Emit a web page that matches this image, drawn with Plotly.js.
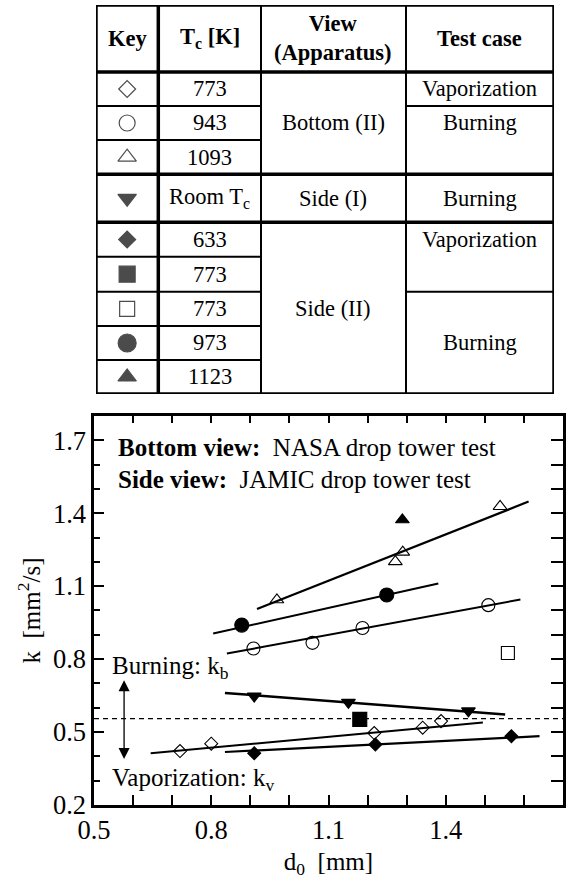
<!DOCTYPE html>
<html>
<head>
<meta charset="utf-8">
<script src="https://cdn.plot.ly/plotly-3.0.1.min.js"></script>
<style>html,body{margin:0;padding:0;background:#fff}</style>
</head>
<body>
<div id="chart" style="width:578px;height:883px"></div>
<script>
// ---- Burning / vaporization rate constants k versus initial droplet diameter d0 ----

// Bottom view (NASA drop tower), Tc = 773 K, vaporization: open diamonds
const vap773X = [0.720, 0.800, 1.217, 1.341, 1.388];
const vap773K = [0.422, 0.452, 0.496, 0.518, 0.545];
const vap773FitX = [0.645, 1.495];
const vap773FitK = [0.413, 0.539];

// Bottom view, Tc = 943 K, burning: open circles
const burn943X = [0.908, 1.059, 1.187, 1.509];
const burn943K = [0.844, 0.867, 0.928, 1.022];
const burn943FitX = [0.840, 1.591];
const burn943FitK = [0.823, 1.045];

// Bottom view, Tc = 1093 K, burning: open triangles
const burn1093X = [0.968, 1.271, 1.290, 1.539];
const burn1093K = [1.044, 1.201, 1.240, 1.428];
const burn1093FitX = [0.917, 1.612];
const burn1093FitK = [1.006, 1.448];

// Side view (I), room temperature, burning: filled inverted triangles
const burnRoomX = [0.910, 1.151, 1.458];
const burnRoomK = [0.648, 0.622, 0.587];
const burnRoomFitX = [0.835, 1.552];
const burnRoomFitK = [0.661, 0.572];

// Side view (II), Tc = 633 K, vaporization: filled diamonds
const vap633X = [0.910, 1.220, 1.568];
const vap633K = [0.413, 0.449, 0.483];
const vap633FitX = [0.835, 1.640];
const vap633FitK = [0.418, 0.483];

// Side view (II), Tc = 773 K: filled square (vaporization), open square (burning)
const vapSide773X = [1.180];
const vapSide773K = [0.552];
const burnSide773X = [1.559];
const burnSide773K = [0.825];

// Side view (II), Tc = 973 K, burning: filled circles
const burn973X = [0.878, 1.249];
const burn973K = [0.940, 1.064];
const burn973FitX = [0.805, 1.381];
const burn973FitK = [0.905, 1.111];

// Side view (II), Tc = 1123 K, burning: filled triangle
const burn1123X = [1.289];
const burn1123K = [1.373];

// Boundary between burning and vaporization constants
const kBoundary = 0.555;
const arrowX = 0.577;
const arrowTopK = 0.713;
const arrowBottomK = 0.383;

// Axis ticks
const xRange = [0.5, 1.7];
const yRange = [0.2, 1.8];
const xTickVals = [0.5, 0.8, 1.1, 1.4, 1.7];
const xTickText = ['0.5', '0.8', '1.1', '1.4', '1.7'];
const yTickVals = [0.2, 0.5, 0.8, 1.1, 1.4, 1.7];
const yTickText = ['0.2', '0.5', '0.8', '1.1', '1.4', '1.7'];

// ---- Key table ----
const tableHeaders = ['<b>Key</b>', '<b>T<sub>c</sub> [K]</b>', '<b>View</b><br><b>(Apparatus)</b>', '<b>Test case</b>'];
const keySymbols = ['diamond-open', 'circle-open', 'triangle-up-open', 'triangle-down',
                    'diamond', 'square', 'square-open', 'circle', 'triangle-up'];
const keySizes = [13, 16, 16, 16, 13, 16, 15, 18, 16];
const tcLabels = ['773', '943', '1093', 'Room T<sub>c</sub>', '633', '773', '773', '973', '1123'];
const viewLabels = ['Bottom (II)', 'Side (I)', 'Side (II)'];
const viewLabelRow = [1, 3, 6];
const sectionEndRows = [2, 3];
const testLabels = ['Vaporization', 'Burning', 'Burning', 'Vaporization', 'Burning'];
const testLabelRow = [0, 1, 3, 4, 7];
const testLastRow = [0, 2, 3, 5, 8];

// table geometry (table units)
const colWidths = [62.3, 102.7, 145, 148];
const rowHeights = [67, 34, 34, 34.3, 48, 34.4, 35, 34.3, 34, 34];

const FONT = '"Liberation Serif", "Times New Roman", Times, serif';

function cumulative(arr) {
  const out = [0];
  arr.forEach(v => out.push(out[out.length - 1] + v));
  return out;
}
const colEdges = cumulative(colWidths);
const rowEdges = cumulative(rowHeights);
const tableW = colEdges[colEdges.length - 1];
const tableH = rowEdges[rowEdges.length - 1];
const colMid = i => (colEdges[i] + colEdges[i + 1]) / 2;
const dataRowMid = r => (rowEdges[r + 1] + rowEdges[r + 2]) / 2;
const dataRowBottom = r => rowEdges[r + 2];

const THICK = 3.5, THIN = 2;
const shapes = [];
function tline(x0, x1, y0, y1, w) {
  shapes.push({type: 'line', xref: 'x2', yref: 'y2', x0, x1, y0, y1,
               line: {color: '#000', width: w}});
}
// outer frame
shapes.push({type: 'rect', xref: 'x2', yref: 'y2', x0: 0, x1: tableW, y0: 0, y1: tableH,
             line: {color: '#000', width: THICK}});
// header rule and column rules
tline(0, tableW, rowEdges[1], rowEdges[1], THICK);
tline(colEdges[1], colEdges[1], 0, tableH, THICK);
tline(colEdges[2], colEdges[2], 0, tableH, THIN);
tline(colEdges[3], colEdges[3], 0, tableH, THIN);
// row rules
for (let r = 0; r < tcLabels.length - 1; r++) {
  const y = dataRowBottom(r);
  if (sectionEndRows.includes(r)) {
    tline(0, tableW, y, y, THICK);
  } else {
    tline(0, colEdges[2], y, y, THIN);
    if (testLastRow.includes(r)) tline(colEdges[3], tableW, y, y, THIN);
  }
}

const annotations = [];
const tfont = {family: FONT, size: 22.5, color: '#000'};
tableHeaders.forEach((t, i) => annotations.push({
  xref: 'x2', yref: 'y2', x: colMid(i), y: (rowEdges[0] + rowEdges[1]) / 2,
  text: t, showarrow: false, font: tfont, xanchor: 'center', yanchor: 'middle'
}));
tcLabels.forEach((t, r) => annotations.push({
  xref: 'x2', yref: 'y2', x: colMid(1), y: dataRowMid(r),
  text: t, showarrow: false, font: tfont, xanchor: 'center', yanchor: 'middle'
}));
viewLabels.forEach((t, i) => annotations.push({
  xref: 'x2', yref: 'y2', x: colMid(2), y: dataRowMid(viewLabelRow[i]),
  text: t, showarrow: false, font: tfont, xanchor: 'center', yanchor: 'middle'
}));
testLabels.forEach((t, i) => annotations.push({
  xref: 'x2', yref: 'y2', x: colMid(3), y: dataRowMid(testLabelRow[i]),
  text: t, showarrow: false, font: tfont, xanchor: 'center', yanchor: 'middle'
}));

// ---- in-plot labels ----
const pfont = {family: FONT, size: 25, color: '#000'};
annotations.push(
  {xref: 'x', yref: 'y', x: 0.556, y: 1.669, xanchor: 'left', yanchor: 'middle', showarrow: false,
   text: '<b>Bottom view:</b>\u00a0 NASA drop tower test', font: pfont},
  {xref: 'x', yref: 'y', x: 0.556, y: 1.537, xanchor: 'left', yanchor: 'middle', showarrow: false,
   text: '<b>Side view:</b>\u00a0 JAMIC drop tower test', font: pfont},
  {xref: 'x', yref: 'y', x: 0.54, y: 0.765, xanchor: 'left', yanchor: 'middle', showarrow: false,
   text: 'Burning: k<sub>b</sub>', font: pfont},
  {xref: 'x', yref: 'y', x: 0.54, y: 0.305, xanchor: 'left', yanchor: 'middle', showarrow: false,
   text: 'Vaporization: k<sub>v</sub>', font: pfont},
  {xref: 'x', yref: 'y', axref: 'x', ayref: 'y', x: arrowX, y: arrowTopK, ax: arrowX, ay: arrowBottomK,
   text: '', showarrow: true, arrowside: 'end+start', arrowhead: 2, arrowsize: 1.7,
   arrowwidth: 1.3, arrowcolor: '#000', standoff: 0, startstandoff: 0}
);

shapes.push({type: 'line', xref: 'x', yref: 'y', x0: xRange[0], x1: xRange[1],
             y0: kBoundary, y1: kBoundary, line: {color: '#000', width: 1.2, dash: '5px,4px'}});

// ---- traces ----
const traces = [];
function fit(x, y, w) {
  traces.push({x, y, xaxis: 'x', yaxis: 'y', mode: 'lines', type: 'scatter',
               line: {color: '#000', width: w}, hoverinfo: 'skip'});
}
function pts(x, y, symbol, size) {
  traces.push({x, y, xaxis: 'x', yaxis: 'y', mode: 'markers', type: 'scatter',
               marker: {symbol, size, color: '#000', line: {color: '#000', width: 1.1}}});
}
fit(vap773FitX, vap773FitK, 2);
fit(burn943FitX, burn943FitK, 2);
fit(burn1093FitX, burn1093FitK, 2.2);
fit(burnRoomFitX, burnRoomFitK, 2.5);
fit(vap633FitX, vap633FitK, 2.2);
fit(burn973FitX, burn973FitK, 2);

pts(vap773X, vap773K, 'diamond-open', 10);
pts(burn943X, burn943K, 'circle-open', 13);
pts(burn1093X, burn1093K, 'triangle-up-open', 12);
pts(burnRoomX, burnRoomK, 'triangle-down', 12);
pts(vap633X, vap633K, 'diamond', 10);
pts(vapSide773X, vapSide773K, 'square', 14);
pts(burnSide773X, burnSide773K, 'square-open', 13);
pts(burn973X, burn973K, 'circle', 14);
pts(burn1123X, burn1123K, 'triangle-up', 12);

// key column symbols
traces.push({
  x: keySymbols.map(() => colMid(0)),
  y: keySymbols.map((s, r) => dataRowMid(r)),
  xaxis: 'x2', yaxis: 'y2', mode: 'markers', type: 'scatter',
  marker: {symbol: keySymbols, size: keySizes, color: '#000', line: {color: '#000', width: 1.2}}
});

const axisFont = {family: FONT, size: 26.5, color: '#000'};
const tickStyle = len => ({ticks: 'inside', ticklen: len, tickwidth: 2, tickcolor: '#000'});
const mainYDomain = [0, 0.48323];
// plain tick-only axes laid over the frame on each side
const tickAxis = (overlay, side, anchor, range, t0, len) => Object.assign({
  overlaying: overlay, side, anchor, range,
  tickmode: 'linear', tick0: t0, dtick: 0.1, showticklabels: false,
  showgrid: false, zeroline: false, showline: false
}, tickStyle(len));

const layout = {
  width: 578, height: 883,
  margin: {l: 94, r: 15, t: 0, b: 78},
  paper_bgcolor: '#fff', plot_bgcolor: '#fff',
  showlegend: false,
  font: {family: FONT, color: '#000'},
  xaxis: {
    domain: [0, 1], anchor: 'y', range: xRange,
    tickmode: 'array', tickvals: xTickVals, ticktext: xTickText, ticks: '',
    showline: true, linewidth: 2.6, linecolor: '#000', mirror: true,
    showgrid: false, zeroline: false, tickfont: axisFont,
    title: {text: 'd<sub>0</sub>\u00a0 [mm]', font: {family: FONT, size: 25, color: '#000'}, standoff: 8}
  },
  yaxis: {
    domain: mainYDomain, anchor: 'x', range: yRange,
    tickmode: 'array', tickvals: yTickVals, ticktext: yTickText, ticks: '',
    showline: true, linewidth: 2.6, linecolor: '#000', mirror: true,
    showgrid: false, zeroline: false, tickfont: axisFont,
    title: {text: 'k\u00a0 [mm<sup>2</sup>/s]', font: {family: FONT, size: 25, color: '#000'}, standoff: 6}
  },
  xaxis3: tickAxis('x', 'top', 'y', xRange, 0.5, 7),
  yaxis3: tickAxis('y', 'right', 'x', yRange, 0.2, 12),
  xaxis4: tickAxis('x', 'bottom', 'y', xRange, 0.5, 10),
  yaxis4: Object.assign(tickAxis('y', 'left', 'x', yRange, 0.2, 10), {
    tickmode: 'array', tickvals: yTickVals,
    minor: Object.assign({dtick: 0.1, tick0: 0.2}, tickStyle(6))
  }),
  xaxis2: {domain: [0.00426, 0.98081], anchor: 'y2', range: [0, tableW], visible: false, fixedrange: true},
  yaxis2: {domain: [0.51056, 0.99379], anchor: 'x2', range: [tableH, 0], visible: false, fixedrange: true},
  shapes, annotations
};

// invisible traces that carry the tick-only axes
traces.push({x: xRange, y: yRange, xaxis: 'x3', yaxis: 'y3', mode: 'markers', type: 'scatter',
             marker: {opacity: 0}, hoverinfo: 'skip'});
traces.push({x: xRange, y: yRange, xaxis: 'x4', yaxis: 'y4', mode: 'markers', type: 'scatter',
             marker: {opacity: 0}, hoverinfo: 'skip'});

Plotly.newPlot('chart', traces, layout, {staticPlot: true, displayModeBar: false});
</script>
</body>
</html>
